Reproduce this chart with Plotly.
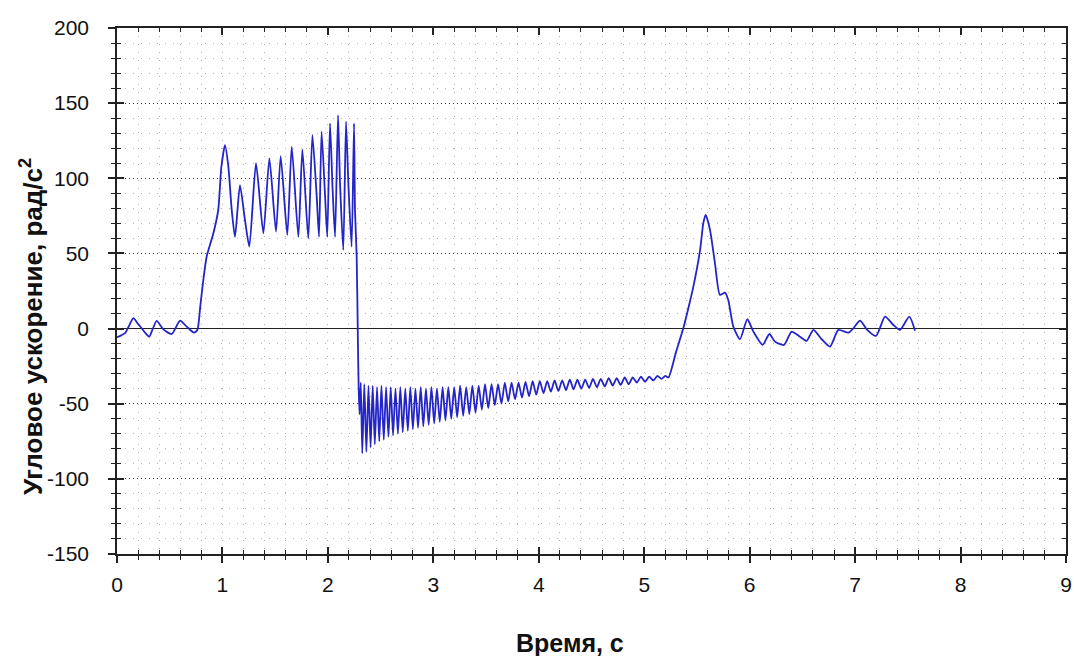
import plotly.graph_objects as go

# ---- data ----
t_start = [0.000, 0.040, 0.076, 0.115, 0.155, 0.195, 0.234, 0.270, 0.306, 0.340, 0.376, 0.440,
           0.519, 0.598, 0.661, 0.730, 0.762, 0.790, 0.818, 0.850, 0.914, 0.960, 0.990]
a_start = [-5.8, -4.5, -3.1, 2.0, 6.9, 3.5, 0.2, -3.0, -5.4, 0.0, 5.1, -0.5,
           -3.6, 5.3, 1.3, -2.7, -1.0, 15.0, 32.0, 47.8, 63.4, 78.9, 107.7]

t_accel = [1.024, 1.056, 1.088, 1.119, 1.166, 1.214, 1.255, 1.318, 1.388, 1.445, 1.508, 1.552,
           1.615, 1.657, 1.720, 1.758, 1.814, 1.853, 1.894, 1.916, 1.940, 1.972, 1.994, 2.020,
           2.045, 2.068, 2.096, 2.115, 2.146, 2.172, 2.194, 2.225, 2.248, 2.257, 2.273, 2.285, 2.292]
a_accel = [122.0, 107.7, 79.0, 61.0, 95.5, 72.0, 54.5, 110.0, 63.4, 113.3, 64.5, 114.8,
           62.3, 121.0, 61.0, 119.3, 60.0, 128.8, 87.8, 61.0, 131.0, 90.0, 61.0, 136.6,
           92.2, 61.0, 142.0, 96.7, 52.3, 137.7, 96.7, 54.5, 136.6, 79.0, 47.8, -10.0, -40.0]

t_brake = [2.300, 2.312, 2.326, 2.345, 2.365, 2.385, 2.405, 2.425, 2.445, 2.466, 2.487, 2.508,
           2.530, 2.552, 2.574, 2.596, 2.618, 2.641, 2.664, 2.687, 2.710, 2.734, 2.758, 2.782,
           2.806, 2.830, 2.855, 2.880, 2.905, 2.930, 2.956, 2.982, 3.008, 3.034, 3.061, 3.088,
           3.115, 3.142, 3.170, 3.198, 3.226, 3.254, 3.283, 3.312, 3.341, 3.370, 3.400, 3.430,
           3.460, 3.490, 3.521, 3.552, 3.583, 3.614, 3.646, 3.678, 3.710, 3.742, 3.775, 3.808,
           3.841, 3.874, 3.908, 3.942, 3.976, 4.010, 4.045, 4.080, 4.115, 4.150, 4.186, 4.222,
           4.258, 4.294, 4.330, 4.366, 4.403, 4.440, 4.477, 4.514, 4.551, 4.588, 4.625, 4.663,
           4.701, 4.739, 4.777, 4.815, 4.853, 4.891, 4.930, 4.969, 5.008, 5.047, 5.086, 5.125,
           5.164, 5.200, 5.230]
a_brake = [-57.0, -36.0, -83.0, -37.0, -82.0, -38.0, -79.0, -38.0, -77.0, -39.0, -75.0, -38.0,
           -74.0, -39.0, -72.0, -39.0, -71.0, -40.0, -70.0, -39.0, -69.0, -40.0, -68.0, -39.0,
           -67.0, -40.0, -66.0, -39.0, -65.0, -40.0, -64.0, -39.0, -63.0, -40.0, -62.0, -39.0,
           -61.0, -39.0, -60.0, -39.0, -59.0, -38.0, -58.0, -39.0, -57.0, -38.0, -56.0, -38.0,
           -54.0, -37.0, -53.0, -37.0, -51.0, -37.0, -50.0, -36.0, -48.5, -36.0, -47.0, -36.0,
           -46.0, -35.5, -45.0, -35.0, -44.0, -35.0, -43.0, -35.0, -42.0, -34.5, -41.5, -34.5,
           -41.0, -34.0, -40.5, -34.0, -40.0, -34.0, -39.5, -33.5, -39.0, -33.5, -38.5, -33.0,
           -38.0, -33.0, -37.5, -32.5, -37.0, -32.5, -36.0, -32.0, -35.5, -32.0, -34.5, -31.5,
           -33.5, -31.5, -32.5]

t_peak = [5.300, 5.370, 5.420, 5.466, 5.530, 5.560, 5.583, 5.624, 5.671, 5.718, 5.766, 5.797,
          5.845, 5.908, 5.978, 6.035, 6.123, 6.187, 6.240, 6.326, 6.398, 6.477, 6.540, 6.604,
          6.683, 6.762, 6.841, 6.936, 6.983, 7.047, 7.110, 7.198, 7.284, 7.363, 7.426, 7.514, 7.568]
a_peak = [-16.0, 0.0, 14.0, 27.9, 52.3, 70.0, 75.6, 65.6, 43.4, 22.4, 23.9, 19.0,
          1.3, -7.1, 6.2, -2.0, -10.9, -3.6, -8.7, -10.9, -2.0, -5.4, -8.2, -0.9,
          -7.1, -12.0, -0.9, -2.7, 0.2, 5.3, -0.5, -4.9, 7.9, 2.4, -0.9, 7.9, -1.4]

x_ticks = [0, 1, 2, 3, 4, 5, 6, 7, 8, 9]
y_ticks = [-150, -100, -50, 0, 50, 100, 150, 200]
x_title = "Время, с"
y_title = "Угловое ускорение, рад/с<sup>2</sup>"

t_all = t_start + t_accel + t_brake + t_peak
a_all = a_start + a_accel + a_brake + a_peak

FONT = "Arial, 'Liberation Sans', sans-serif"
LW = 1.5
AX = "#222"

fig = go.Figure()
fig.add_trace(go.Scatter(x=t_all, y=a_all, mode="lines",
                         line=dict(color="#2424c8", width=1.8, shape="spline", smoothing=0.6),
                         showlegend=False, hoverinfo="skip"))
# helper traces so the overlay axes are drawn
fig.add_trace(go.Scatter(x=[None], y=[None], xaxis="x2", yaxis="y2", showlegend=False))
fig.add_trace(go.Scatter(x=[None], y=[None], xaxis="x3", yaxis="y3", showlegend=False))


def overlay_axis(rng, base, side, vals, mdt):
    return dict(range=rng, overlaying=base, side=side, tickvals=vals, showticklabels=False,
                ticks="inside", ticklen=7, tickwidth=LW, tickcolor=AX,
                showgrid=False, zeroline=False, showline=False, automargin=False,
                minor=dict(dtick=mdt, ticks="inside", ticklen=4, tickwidth=1.2, tickcolor=AX))


fig.update_layout(
    width=1074, height=656,
    margin=dict(l=117, r=8, t=28, b=102),
    paper_bgcolor="white", plot_bgcolor="white",
    font=dict(family=FONT, size=21, color="#111"),
    xaxis=dict(range=[0, 9], tickvals=x_ticks, ticktext=[str(v) for v in x_ticks],
               showline=True, linecolor=AX, linewidth=LW, mirror=True,
               ticks="outside", ticklen=7, tickwidth=LW, tickcolor=AX,
               showgrid=True, gridcolor="#b4b4b4", gridwidth=1, griddash="1px,7px",
               zeroline=False, automargin=False,
               minor=dict(dtick=0.2, ticks="outside", ticklen=4, tickwidth=1.2, tickcolor=AX,
                          showgrid=True, gridcolor="#b4b4b4", gridwidth=1, griddash="1px,7px"),
               ticklabelstandoff=4),
    xaxis2=overlay_axis([0, 9], "x", "top", x_ticks, 0.2),
    xaxis3=overlay_axis([0, 9], "x", "bottom", x_ticks, 0.2),
    yaxis=dict(range=[-150, 200], tickvals=y_ticks, ticktext=[str(v) for v in y_ticks],
               showline=True, linecolor=AX, linewidth=LW, mirror=True,
               ticks="outside", ticklen=7, tickwidth=LW, tickcolor=AX,
               showgrid=True, gridcolor="#333", gridwidth=1, griddash="1px,3px",
               zeroline=True, zerolinecolor=AX, zerolinewidth=1.2, automargin=False,
               minor=dict(dtick=10, ticks="outside", ticklen=4, tickwidth=1.2, tickcolor=AX,
                          showgrid=True, gridcolor="#b4b4b4", gridwidth=1, griddash="1px,7px"),
               ticklabelstandoff=15),
    yaxis2=overlay_axis([-150, 200], "y", "right", y_ticks, 10),
    yaxis3=overlay_axis([-150, 200], "y", "left", y_ticks, 10),
    annotations=[
        dict(text="<b>" + x_title + "</b>", xref="paper", yref="paper",
             x=(570 - 117) / 949, y=-(643 - 554) / 526, xanchor="center", yanchor="middle",
             showarrow=False, font=dict(size=25, family=FONT, color="#111")),
        dict(text="<b>" + y_title + "</b>", xref="paper", yref="paper",
             x=-(117 - 32) / 949, y=(554 - 327) / 526, xanchor="center", yanchor="middle",
             textangle=-90, showarrow=False, font=dict(size=26, family=FONT, color="#111")),
    ],
)

# remove the default page margin so the 1074x656 figure fills the window exactly
fig.write_html("out.html", config={"displayModeBar": False},
               post_script="document.body.style.margin='0';document.body.style.overflow='hidden';")
